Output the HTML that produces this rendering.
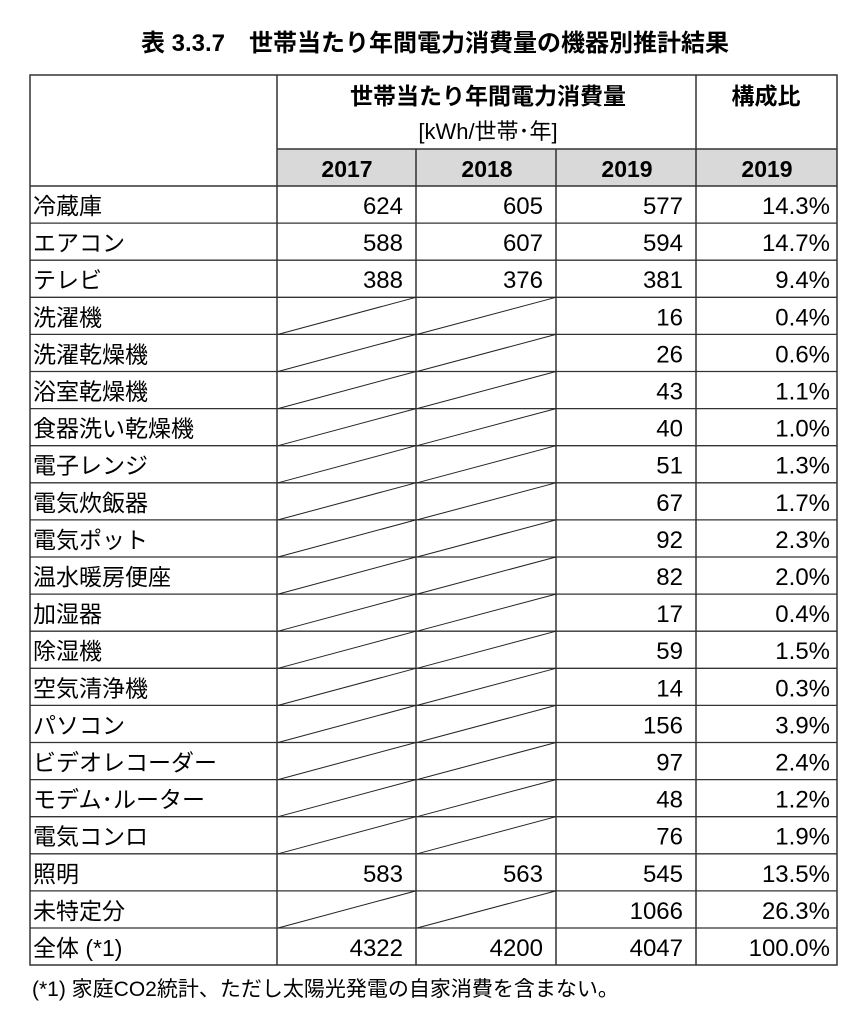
<!DOCTYPE html>
<html><head><meta charset="utf-8"><style>
body{margin:0;background:#fff;}
svg text{font-family:"Liberation Sans","Noto Sans CJK JP",sans-serif;fill:#000;}
.l{font-size:23px}
.r{font-size:24px;text-anchor:end}
</style></head><body>
<svg width="850" height="1018" xmlns="http://www.w3.org/2000/svg">
<text x="435" y="51" text-anchor="middle" font-size="24" font-weight="bold">表 3.3.7　世帯当たり年間電力消費量の機器別推計結果</text>
<rect x="277" y="149" width="419" height="37" fill="#d9d9d9"/>
<rect x="696" y="149" width="141" height="37" fill="#d9d9d9"/>
<g stroke="#333" stroke-width="1.5" fill="none">
<rect x="30" y="75" width="807" height="890"/>
<line x1="277" y1="75" x2="277" y2="965"/>
<line x1="696" y1="75" x2="696" y2="965"/>
<line x1="416" y1="149" x2="416" y2="965"/>
<line x1="556" y1="149" x2="556" y2="965"/>
<line x1="277" y1="149" x2="837" y2="149"/>
<line x1="30" y1="186" x2="837" y2="186"/>
</g>
<g stroke="#333" stroke-width="1.3">
<line x1="30" y1="223.1" x2="837" y2="223.1"/>
<line x1="30" y1="260.2" x2="837" y2="260.2"/>
<line x1="30" y1="297.3" x2="837" y2="297.3"/>
<line x1="30" y1="334.4" x2="837" y2="334.4"/>
<line x1="30" y1="371.5" x2="837" y2="371.5"/>
<line x1="30" y1="408.6" x2="837" y2="408.6"/>
<line x1="30" y1="445.7" x2="837" y2="445.7"/>
<line x1="30" y1="482.8" x2="837" y2="482.8"/>
<line x1="30" y1="519.9" x2="837" y2="519.9"/>
<line x1="30" y1="557" x2="837" y2="557"/>
<line x1="30" y1="594.1" x2="837" y2="594.1"/>
<line x1="30" y1="631.2" x2="837" y2="631.2"/>
<line x1="30" y1="668.3" x2="837" y2="668.3"/>
<line x1="30" y1="705.4" x2="837" y2="705.4"/>
<line x1="30" y1="742.5" x2="837" y2="742.5"/>
<line x1="30" y1="779.6" x2="837" y2="779.6"/>
<line x1="30" y1="816.7" x2="837" y2="816.7"/>
<line x1="30" y1="853.8" x2="837" y2="853.8"/>
<line x1="30" y1="890.9" x2="837" y2="890.9"/>
<line x1="30" y1="928" x2="837" y2="928"/>
</g>
<g stroke="#222" stroke-width="1">
<line x1="278" y1="334.4" x2="416" y2="297.3"/><line x1="417" y1="334.4" x2="556" y2="297.3"/>
<line x1="278" y1="371.5" x2="416" y2="334.4"/><line x1="417" y1="371.5" x2="556" y2="334.4"/>
<line x1="278" y1="408.6" x2="416" y2="371.5"/><line x1="417" y1="408.6" x2="556" y2="371.5"/>
<line x1="278" y1="445.7" x2="416" y2="408.6"/><line x1="417" y1="445.7" x2="556" y2="408.6"/>
<line x1="278" y1="482.8" x2="416" y2="445.7"/><line x1="417" y1="482.8" x2="556" y2="445.7"/>
<line x1="278" y1="519.9" x2="416" y2="482.8"/><line x1="417" y1="519.9" x2="556" y2="482.8"/>
<line x1="278" y1="557" x2="416" y2="519.9"/><line x1="417" y1="557" x2="556" y2="519.9"/>
<line x1="278" y1="594.1" x2="416" y2="557"/><line x1="417" y1="594.1" x2="556" y2="557"/>
<line x1="278" y1="631.2" x2="416" y2="594.1"/><line x1="417" y1="631.2" x2="556" y2="594.1"/>
<line x1="278" y1="668.3" x2="416" y2="631.2"/><line x1="417" y1="668.3" x2="556" y2="631.2"/>
<line x1="278" y1="705.4" x2="416" y2="668.3"/><line x1="417" y1="705.4" x2="556" y2="668.3"/>
<line x1="278" y1="742.5" x2="416" y2="705.4"/><line x1="417" y1="742.5" x2="556" y2="705.4"/>
<line x1="278" y1="779.6" x2="416" y2="742.5"/><line x1="417" y1="779.6" x2="556" y2="742.5"/>
<line x1="278" y1="816.7" x2="416" y2="779.6"/><line x1="417" y1="816.7" x2="556" y2="779.6"/>
<line x1="278" y1="853.8" x2="416" y2="816.7"/><line x1="417" y1="853.8" x2="556" y2="816.7"/>
<line x1="278" y1="928" x2="416" y2="890.9"/><line x1="417" y1="928" x2="556" y2="890.9"/>
</g>
<text x="488" y="104" text-anchor="middle" font-size="23" font-weight="bold">世帯当たり年間電力消費量</text>
<text x="488" y="139" text-anchor="middle" font-size="22">[kWh/世帯･年]</text>
<text x="766" y="104" text-anchor="middle" font-size="23" font-weight="bold">構成比</text>
<text x="347" y="177" text-anchor="middle" font-size="23" font-weight="bold">2017</text>
<text x="487" y="177" text-anchor="middle" font-size="23" font-weight="bold">2018</text>
<text x="627" y="177" text-anchor="middle" font-size="23" font-weight="bold">2019</text>
<text x="767" y="177" text-anchor="middle" font-size="23" font-weight="bold">2019</text>

<text class="l" x="33" y="214">冷蔵庫</text><text class="r" x="403" y="214">624</text><text class="r" x="543" y="214">605</text><text class="r" x="683" y="214">577</text><text class="r" x="830" y="214">14.3%</text>
<text class="l" x="33" y="251.1">エアコン</text><text class="r" x="403" y="251.1">588</text><text class="r" x="543" y="251.1">607</text><text class="r" x="683" y="251.1">594</text><text class="r" x="830" y="251.1">14.7%</text>
<text class="l" x="33" y="288.2">テレビ</text><text class="r" x="403" y="288.2">388</text><text class="r" x="543" y="288.2">376</text><text class="r" x="683" y="288.2">381</text><text class="r" x="830" y="288.2">9.4%</text>
<text class="l" x="33" y="325.3">洗濯機</text><text class="r" x="683" y="325.3">16</text><text class="r" x="830" y="325.3">0.4%</text>
<text class="l" x="33" y="362.4">洗濯乾燥機</text><text class="r" x="683" y="362.4">26</text><text class="r" x="830" y="362.4">0.6%</text>
<text class="l" x="33" y="399.5">浴室乾燥機</text><text class="r" x="683" y="399.5">43</text><text class="r" x="830" y="399.5">1.1%</text>
<text class="l" x="33" y="436.6">食器洗い乾燥機</text><text class="r" x="683" y="436.6">40</text><text class="r" x="830" y="436.6">1.0%</text>
<text class="l" x="33" y="473.7">電子レンジ</text><text class="r" x="683" y="473.7">51</text><text class="r" x="830" y="473.7">1.3%</text>
<text class="l" x="33" y="510.8">電気炊飯器</text><text class="r" x="683" y="510.8">67</text><text class="r" x="830" y="510.8">1.7%</text>
<text class="l" x="33" y="547.9">電気ポット</text><text class="r" x="683" y="547.9">92</text><text class="r" x="830" y="547.9">2.3%</text>
<text class="l" x="33" y="585">温水暖房便座</text><text class="r" x="683" y="585">82</text><text class="r" x="830" y="585">2.0%</text>
<text class="l" x="33" y="622.1">加湿器</text><text class="r" x="683" y="622.1">17</text><text class="r" x="830" y="622.1">0.4%</text>
<text class="l" x="33" y="659.2">除湿機</text><text class="r" x="683" y="659.2">59</text><text class="r" x="830" y="659.2">1.5%</text>
<text class="l" x="33" y="696.3">空気清浄機</text><text class="r" x="683" y="696.3">14</text><text class="r" x="830" y="696.3">0.3%</text>
<text class="l" x="33" y="733.4">パソコン</text><text class="r" x="683" y="733.4">156</text><text class="r" x="830" y="733.4">3.9%</text>
<text class="l" x="33" y="770.5">ビデオレコーダー</text><text class="r" x="683" y="770.5">97</text><text class="r" x="830" y="770.5">2.4%</text>
<text class="l" x="33" y="807.6">モデム･ルーター</text><text class="r" x="683" y="807.6">48</text><text class="r" x="830" y="807.6">1.2%</text>
<text class="l" x="33" y="844.7">電気コンロ</text><text class="r" x="683" y="844.7">76</text><text class="r" x="830" y="844.7">1.9%</text>
<text class="l" x="33" y="881.8">照明</text><text class="r" x="403" y="881.8">583</text><text class="r" x="543" y="881.8">563</text><text class="r" x="683" y="881.8">545</text><text class="r" x="830" y="881.8">13.5%</text>
<text class="l" x="33" y="918.9">未特定分</text><text class="r" x="683" y="918.9">1066</text><text class="r" x="830" y="918.9">26.3%</text>
<text class="l" x="33" y="956">全体 (*1)</text><text class="r" x="403" y="956">4322</text><text class="r" x="543" y="956">4200</text><text class="r" x="683" y="956">4047</text><text class="r" x="830" y="956">100.0%</text>

<text x="32" y="996" font-size="21">(*1) 家庭CO2統計、ただし太陽光発電の自家消費を含まない。</text>
</svg>
</body></html>
